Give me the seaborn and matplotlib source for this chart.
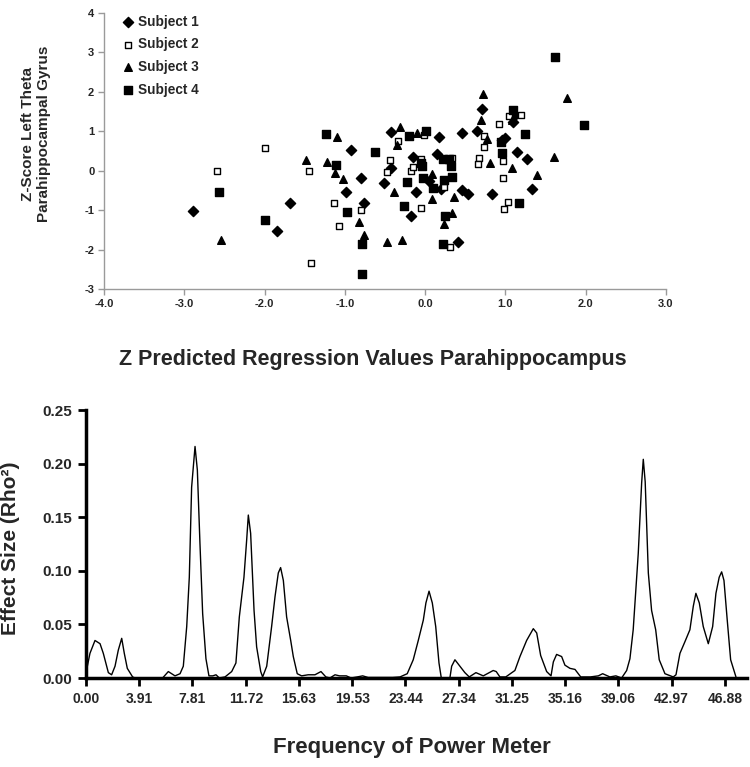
import numpy as np
import pandas as pd
import matplotlib
matplotlib.use('Agg')
import matplotlib.pyplot as plt
import seaborn as sns

# scatter: z predicted vs z-score, per subject
s1_x = [-2.89, -1.85, -1.68, -0.92, -0.80, -0.98, -0.76, -0.51, -0.43, -0.43,
        -0.15, -0.12, -0.17, 0.05, 0.17, 0.15, 0.20, 0.46, 0.46, 0.53,
        0.41, 0.64, 0.71, 0.83, 1.00, 0.96, 1.10, 1.12, 1.14, 1.27, 1.33]
s1_y = [-1.01, -1.54, -0.82, 0.52, -0.19, -0.54, -0.82, -0.30, 0.98, 0.07,
        0.35, -0.54, -1.16, -0.25, 0.86, 0.43, -0.47, 0.95, -0.48, -0.60,
        -1.82, 1.01, 1.57, -0.60, 0.84, 0.78, 1.23, 1.42, 0.47, 0.30, -0.47]
s2_x = [-2.59, -1.99, -1.45, -1.42, -1.14, -1.07, -0.80, -0.47, -0.44, -0.34,
        -0.18, -0.15, -0.05, -0.05, -0.02, 0.34, 0.24, 0.31, 0.67, 0.66,
        0.73, 0.73, 0.92, 0.97, 0.97, 0.98, 1.03, 1.04, 1.19]
s2_y = [-0.01, 0.58, -0.01, -2.35, -0.82, -1.41, -0.99, -0.03, 0.26, 0.75,
        -0.01, 0.09, 0.30, -0.95, 0.91, 0.33, -0.41, -1.93, 0.33, 0.18,
        0.87, 0.60, 1.18, 0.24, -0.19, -0.96, -0.80, 1.40, 1.42]
s3_x = [-2.54, -1.49, -1.22, -1.10, -1.12, -1.02, -0.83, -0.76, -0.48, -0.39,
        -0.35, -0.31, -0.29, -0.10, 0.08, 0.09, 0.23, 0.33, 0.36, 0.69,
        0.72, 0.77, 0.81, 1.08, 1.08, 1.39, 1.60, 1.77]
s3_y = [-1.75, 0.28, 0.22, 0.86, -0.05, -0.20, -1.29, -1.62, -1.82, -0.54,
        0.64, 1.10, -1.75, 0.96, -0.09, -0.73, -1.34, -1.06, -0.67, 1.29,
        1.95, 0.80, 0.19, 0.07, 1.29, -0.12, 0.34, 1.85]
s4_x = [-2.57, -1.99, -1.23, -1.11, -0.97, -0.79, -0.79, -0.62, -0.26, -0.23,
        -0.20, -0.05, -0.04, -0.03, 0.01, 0.10, 0.22, 0.30, 0.32, 0.24,
        0.34, 0.25, 0.22, 0.95, 0.96, 1.10, 1.25, 1.17, 1.62, 1.98]
s4_y = [-0.53, -1.26, 0.94, 0.15, -1.04, -1.86, -2.63, 0.47, -0.90, -0.28,
        0.87, 0.19, 0.12, -0.19, 1.00, -0.44, 0.30, 0.30, 0.11, -0.23,
        -0.16, -1.14, -1.87, 0.74, 0.45, 1.55, 0.93, -0.83, 2.88, 1.15]

# effect size spectrum
freq = [0.10, 0.29, 0.66, 1.03, 1.27, 1.64, 1.88, 2.13, 2.37, 2.62,
        2.81, 3.03, 3.42, 3.60, 5.62, 6.04, 6.53, 6.90, 7.14, 7.39,
        7.58, 7.75, 8.00, 8.17, 8.36, 8.56, 8.80, 9.02, 9.30, 9.54,
        9.78, 10.20, 10.69, 11.00, 11.25, 11.59, 11.79, 11.91, 12.08, 12.33,
        12.52, 12.82, 12.96, 13.26, 13.62, 13.87, 14.11, 14.28, 14.48, 14.72,
        15.02, 15.21, 15.50, 15.82, 16.30, 16.80, 17.24, 17.60, 17.90, 18.27,
        18.60, 19.10, 19.45, 19.90, 20.30, 20.70, 21.50, 22.50, 23.04, 23.57,
        24.01, 24.38, 24.75, 24.94, 25.17, 25.41, 25.66, 25.90, 26.07, 26.70,
        26.83, 27.07, 27.44, 27.80, 28.12, 28.61, 29.15, 29.88, 30.10, 30.37,
        30.80, 31.47, 31.84, 32.33, 32.82, 33.07, 33.36, 33.80, 34.12, 34.29,
        34.53, 34.90, 35.14, 35.51, 35.88, 36.30, 37.00, 37.59, 37.91, 38.44,
        38.88, 39.30, 39.67, 39.91, 40.15, 40.52, 40.77, 40.89, 41.03, 41.26,
        41.50, 41.80, 42.06, 42.48, 43.09, 43.29, 43.58, 43.95, 44.31, 44.56,
        44.75, 45.00, 45.29, 45.66, 45.98, 46.22, 46.46, 46.64, 46.81, 47.05,
        47.30, 47.69]
rho2 = [0.011, 0.023, 0.035, 0.032, 0.023, 0.005, 0.003, 0.011, 0.026, 0.037,
        0.023, 0.009, 0.001, 0.0, 0.0, 0.006, 0.002, 0.004, 0.011, 0.048,
        0.094, 0.178, 0.216, 0.194, 0.126, 0.060, 0.018, 0.002, 0.002, 0.003,
        0.0, 0.001, 0.006, 0.014, 0.057, 0.094, 0.129, 0.152, 0.135, 0.063,
        0.029, 0.006, 0.001, 0.011, 0.048, 0.076, 0.098, 0.103, 0.091, 0.057,
        0.035, 0.020, 0.004, 0.002, 0.003, 0.003, 0.006, 0.001, 0.0, 0.003,
        0.002, 0.002, 0.0, 0.001, 0.002, 0.0005, 0.0005, 0.0005, 0.001, 0.004,
        0.017, 0.035, 0.054, 0.070, 0.081, 0.070, 0.048, 0.014, 0.0, 0.0,
        0.011, 0.017, 0.011, 0.005, 0.001, 0.005, 0.002, 0.007, 0.006, 0.001,
        0.001, 0.007, 0.020, 0.035, 0.046, 0.042, 0.021, 0.006, 0.002, 0.015,
        0.022, 0.020, 0.012, 0.009, 0.008, 0.001, 0.001, 0.002, 0.004, 0.001,
        0.002, 0.0, 0.007, 0.018, 0.045, 0.116, 0.182, 0.204, 0.183, 0.098,
        0.063, 0.045, 0.017, 0.004, 0.001, 0.003, 0.023, 0.034, 0.045, 0.067,
        0.079, 0.070, 0.048, 0.032, 0.048, 0.079, 0.094, 0.099, 0.091, 0.054,
        0.017, 0.001]

freq_ticks = [0.00, 3.91, 7.81, 11.72, 15.63, 19.53, 23.44, 27.34, 31.25,
              35.16, 39.06, 42.97, 46.88]

sns.set_style('white')
plt.rcParams['font.family'] = ['Liberation Sans', 'DejaVu Sans']
plt.rcParams['font.weight'] = 'bold'

fig = plt.figure(figsize=(7.5, 7.67), dpi=100)
W, H = 750, 767

# ---- top: scatter ----
ax1 = fig.add_axes([104 / W, 1 - 289 / H, 562 / W, 276 / H])
subjects = [
    ('Subject 1', s1_x, s1_y, 'D', 'black', 5.2),
    ('Subject 2', s2_x, s2_y, 's', 'white', 4.0),
    ('Subject 3', s3_x, s3_y, '^', 'black', 5.5),
    ('Subject 4', s4_x, s4_y, 's', 'black', 5.2),
]
for name, xs, ys, mk, fc, ms in subjects:
    df = pd.DataFrame({'x': xs, 'y': ys})
    sns.scatterplot(data=df, x='x', y='y', marker=mk, s=ms ** 2,
                    facecolor=fc, edgecolor='black', linewidth=1,
                    label=name, ax=ax1, clip_on=False)

ax1.set_xlim(-4, 3)
ax1.set_ylim(-3, 4)
ax1.set_xticks(np.arange(-4, 4, 1))
ax1.set_xticklabels([f'{v:.1f}' for v in np.arange(-4, 4, 1)])
ax1.set_yticks(np.arange(-3, 5, 1))
ax1.set_yticklabels([f'{v}' for v in range(-3, 5)])
ax1.set_xlabel('')
ax1.set_ylabel('')
for side in ['top', 'right']:
    ax1.spines[side].set_visible(False)
for side in ['left', 'bottom']:
    ax1.spines[side].set_color('#9a9a9a')
    ax1.spines[side].set_linewidth(1)
ax1.tick_params(axis='both', direction='out', length=4, width=1,
                color='#9a9a9a', labelsize=8, pad=3, bottom=True, left=True)
for lab in ax1.get_xticklabels() + ax1.get_yticklabels():
    lab.set_fontweight('bold')

ax1.legend(loc='upper left', bbox_to_anchor=(116 / W, 1 - 8 / H),
           bbox_transform=fig.transFigure, frameon=False, borderpad=0,
           handlelength=0.7, handletextpad=0.45, labelspacing=0.63,
           prop={'size': 9.8, 'weight': 'bold'})

fig.text(36 / W, 1 - 134 / H, 'Z-Score Left Theta\nParahippocampal Gyrus',
         rotation=90, ha='center', va='center', fontsize=11,
         fontweight='bold', linespacing=1.15)
fig.text(373 / W, 1 - 360 / H, 'Z Predicted Regression Values Parahippocampus',
         ha='center', va='center', fontsize=15.5, fontweight='bold')

# ---- bottom: effect size spectrum ----
ax2 = fig.add_axes([86 / W, 1 - 678 / H, 661 / W, 268 / H])
spec = pd.DataFrame({'freq': freq, 'rho2': rho2})
sns.lineplot(data=spec, x='freq', y='rho2', color='black', linewidth=1,
             ax=ax2)
ax2.set_xlim(0, 48.5)
ax2.set_ylim(0, 0.25)
ax2.set_xticks(freq_ticks)
ax2.set_xticklabels([f'{v:.2f}' for v in freq_ticks])
ax2.set_yticks(np.arange(0, 0.26, 0.05))
ax2.set_yticklabels([f'{v:.2f}' for v in np.arange(0, 0.26, 0.05)])
ax2.set_xlabel('')
ax2.set_ylabel('')
for side in ['top', 'right']:
    ax2.spines[side].set_visible(False)
for side in ['left', 'bottom']:
    ax2.spines[side].set_color('black')
    ax2.spines[side].set_linewidth(2.5)
    ax2.spines[side].set_zorder(5)
ax2.tick_params(axis='both', direction='out', length=6, width=2,
                color='black', pad=4, bottom=True, left=True)
ax2.tick_params(axis='x', labelsize=10)
ax2.tick_params(axis='y', labelsize=11)
for lab in ax2.get_xticklabels() + ax2.get_yticklabels():
    lab.set_fontweight('bold')

fig.text(11 / W, 1 - 548 / H, 'Effect Size (Rho²)', rotation=90,
         ha='center', va='center', fontsize=15, fontweight='bold')
fig.text(412 / W, 1 - 748 / H, 'Frequency of Power Meter',
         ha='center', va='center', fontsize=16, fontweight='bold')

fig.savefig('out.png', dpi=100)
